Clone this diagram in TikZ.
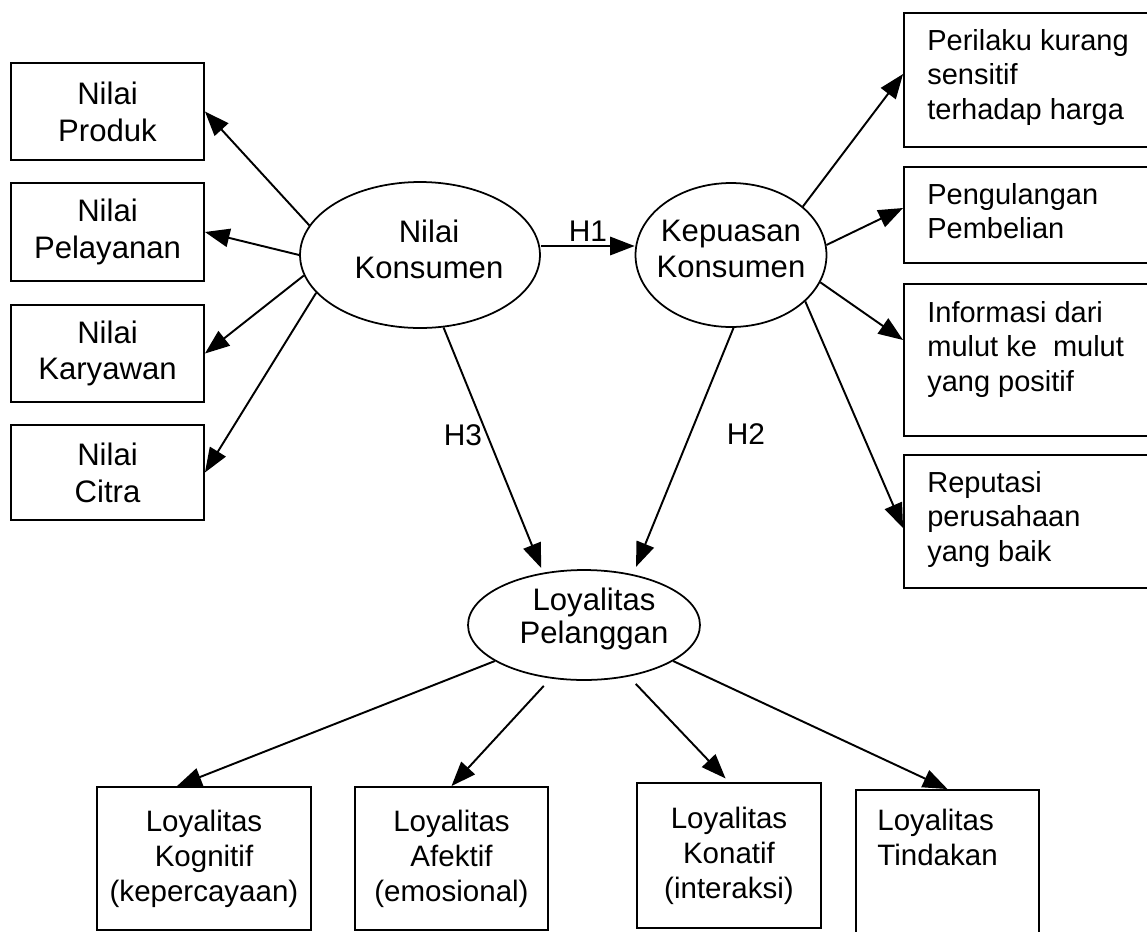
\documentclass[tikz,border=0pt]{standalone}
\usepackage{fontspec}
\setmainfont{Liberation Sans}
\usetikzlibrary{arrows.meta,shapes.geometric}

\begin{document}
\begin{tikzpicture}[x=0.02cm, y=-0.02cm,
  box/.style={draw, line width=1.1pt, rectangle, inner sep=0pt},
  oval/.style={draw, line width=1pt, ellipse, inner sep=0pt},
  lefttext/.style={font=\fontsize{17.7pt}{21pt}\selectfont, align=center},
  ovaltext/.style={font=\fontsize{17.7pt}{20.5pt}\selectfont, align=center, inner sep=0pt},
  righttext/.style={font=\fontsize{16.5pt}{19.7pt}\selectfont, align=left, inner sep=0pt, anchor=north west},
  bottomtext/.style={font=\fontsize{16.8pt}{19.9pt}\selectfont, align=center},
  hyp/.style={font=\fontsize{17pt}{20pt}\selectfont, inner sep=0pt},
  arr/.style={line width=1.1pt, -{Triangle[length=14pt,width=10.5pt]}},
]
\useasboundingbox (0,0) rectangle (1147,931);
\clip (0,0) rectangle (1147,931);

% central constructs
\node[oval, minimum width=4.8cm, minimum height=2.92cm] (nk) at (420,255) {};
\node[ovaltext] (nkt) at (429,249) {Nilai\\Konsumen};
\node[oval, minimum width=3.82cm, minimum height=2.88cm] (kk) at (731,255) {};
\node[ovaltext] (kkt) at (731,249) {Kepuasan\\Konsumen};
\node[oval, minimum width=4.64cm, minimum height=2.2cm] (lp) at (584,625) {};
\node[ovaltext, font=\fontsize{17.7pt}{18.8pt}\selectfont] (lpt) at (594,619) {Loyalitas\\Pelanggan};

% value dimensions (left)
\node[box, lefttext, minimum width=3.86cm, minimum height=1.94cm] (np) at (107.5,111.5) {Nilai\\Produk};
\node[box, lefttext, minimum width=3.86cm, minimum height=1.96cm] (npl) at (107.5,232) {Nilai\\Pelayanan};
\node[box, lefttext, minimum width=3.86cm, minimum height=1.94cm] (nka) at (107.5,353.5) {Nilai\\Karyawan};
\node[box, lefttext, minimum width=3.86cm, minimum height=1.90cm] (nc) at (107.5,472.5) {Nilai\\Citra};

% satisfaction outcomes (right)
\node[box, minimum width=5.12cm, minimum height=2.68cm] (r1) at (1032,80) {};
\node[righttext] (r1t) at (927,29) {Perilaku kurang\\sensitif\\terhadap harga};
\node[box, minimum width=5.12cm, minimum height=1.92cm] (r2) at (1032,215) {};
\node[righttext] (r2t) at (927,183) {Pengulangan\\Pembelian};
\node[box, minimum width=5.12cm, minimum height=3.04cm] (r3) at (1032,360) {};
\node[righttext] (r3t) at (927,301) {Informasi dari\\mulut ke\ \ mulut\\yang positif};
\node[box, minimum width=5.12cm, minimum height=2.66cm] (r4) at (1032,521.5) {};
\node[righttext] (r4t) at (927,471) {Reputasi\\perusahaan\\yang baik};

% loyalty stages (bottom)
\node[box, bottomtext, minimum width=4.28cm, minimum height=2.86cm] (b1) at (204,858.5) {Loyalitas\\Kognitif\\(kepercayaan)};
\node[box, bottomtext, minimum width=3.86cm, minimum height=2.86cm] (b2) at (451.5,858.5) {Loyalitas\\Afektif\\(emosional)};
\node[box, bottomtext, minimum width=3.68cm, minimum height=2.9cm] (b3) at (729,855.5) {Loyalitas\\Konatif\\(interaksi)};
\node[box, minimum width=3.66cm, minimum height=3.1cm] (b4) at (947.5,867.5) {};
\node[righttext, font=\fontsize{16.8pt}{19.9pt}\selectfont] (b4t) at (877,809) {Loyalitas\\Tindakan};

% hypothesis labels
\node[hyp] (h1) at (588,231.5) {H1};
\node[hyp] (h3) at (463,435) {H3};
\node[hyp] (h2) at (746,434) {H2};

% connectors
\draw[arr] (nk.165) -- (np.east);
\draw[arr] (nk.180) -- (npl.east);
\draw[arr] (nk.190) -- (nka.east);
\draw[arr] (nk.200) -- (nc.east);

\draw[arr] ([yshift=0.18cm]nk.east) -- ([yshift=0.18cm]kk.west);
\draw[arr, shorten >=0.1cm] (nk.288) -- (lp.128);
\draw[arr, shorten >=0.16cm] (kk.272) -- (lp.46);

\draw[arr] (kk.34) -- ([yshift=0.12cm]r1.west);
\draw[arr] (kk.6) -- ([yshift=0.14cm]r2.west);
\draw[arr] (kk.343) -- ([yshift=0.4cm]r3.west);
\draw[arr] (kk.328) -- ([yshift=-0.13cm]r4.west);

\draw[arr] (lp.202) -- ([xshift=-0.54cm]b1.north);
\draw[arr, shorten <=0.2cm] (lp.238) -- (b2.north);
\draw[arr, shorten <=0.2cm, shorten >=0.1cm] (lp.311) -- (b3.north);
\draw[arr] (lp.338) -- (b4.north);
\end{tikzpicture}
\end{document}
